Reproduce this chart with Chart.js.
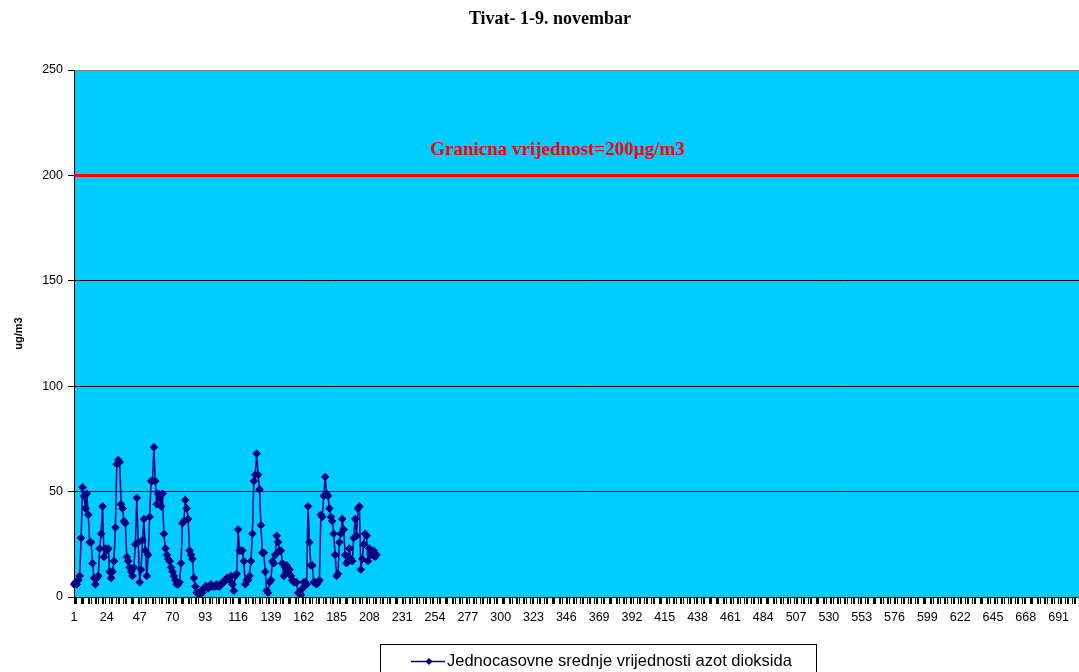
<!DOCTYPE html>
<html><head><meta charset="utf-8">
<script src="https://cdn.jsdelivr.net/npm/chart.js@4.4.0/dist/chart.umd.min.js"></script>
<style>
html,body{margin:0;padding:0;background:#fff;overflow:hidden;width:1079px;height:672px}
#wrap{position:absolute;left:0;top:0;width:1116px;height:672px}
</style>
</head><body>
<div id="wrap"><canvas id="c" width="1116" height="672"></canvas></div>
<script>
const TITLE = 'Tivat- 1-9. novembar';
const Y_TITLE = 'ug/m3';
const SERIES_LABEL = 'Jednocasovne srednje vrijednosti azot dioksida';
const LIMIT_LABEL = 'Granicna vrijednost=200µg/m3';
const LIMIT_VALUE = 200;
const HOURS_IN_MONTH = 720;
const categories = Array.from({length: HOURS_IN_MONTH}, (_, i) => i + 1);
const LABEL_STEP = 23;
const yTicks = [0, 50, 100, 150, 200, 250];
const no2 = [
  6,7,6,8,10,28,52,48,42,49,
  39,26,26,16,9,6,9,10,23,30,
  43,19,23,22,23,12,9,12,17,33,
  63,65,64,44,42,36,35,19,17,14,
  12,10,14,25,47,26,7,13,27,37,
  22,10,20,38,55,55,71,55,44,49,
  47,43,49,30,23,20,18,17,14,12,
  10,8,6,6,7,16,35,36,46,42,
  37,22,20,18,9,5,2,2,1,3,
  2,4,5,5,4,5,6,5,5,5,
  6,5,5,6,7,7,8,9,9,8,
  10,6,3,10,11,32,22,22,22,17,
  6,8,8,10,17,30,55,58,68,58,
  51,34,21,21,12,3,2,7,8,17,
  16,20,29,26,22,22,16,10,14,15,
  12,13,10,8,7,7,7,2,2,1,
  4,7,7,6,43,26,15,15,7,7,
  6,7,8,39,38,48,57,49,48,42,
  38,36,30,20,10,11,26,30,37,32,
  20,16,17,23,18,17,28,37,29,42,
  43,13,18,25,30,29,17,23,20,20,
  22,19,20
];

const NAVY = '#000080';
const PLOT_BG = '#00CCFF';

const bgPlugin = {
  id: 'plotBg',
  beforeDraw(chart) {
    const {ctx, chartArea: a} = chart;
    ctx.save();
    ctx.fillStyle = PLOT_BG;
    ctx.fillRect(a.left, a.top, a.right - a.left, a.bottom - a.top);
    ctx.restore();
  }
};

const limitPlugin = {
  id: 'limitLine',
  beforeDatasetsDraw(chart) {
    const {ctx, chartArea: a, scales: {y}} = chart;
    const py = y.getPixelForValue(LIMIT_VALUE);
    ctx.save();
    ctx.strokeStyle = '#FF0000';
    ctx.lineWidth = 3;
    ctx.beginPath();
    ctx.moveTo(a.left, py);
    ctx.lineTo(a.right, py);
    ctx.stroke();
    ctx.font = 'bold 19px "Liberation Serif", "Times New Roman", serif';
    ctx.fillStyle = '#FF0000';
    ctx.textBaseline = 'middle';
    ctx.textAlign = 'left';
    ctx.fillText(LIMIT_LABEL, a.left + 356, py - 25);
    ctx.restore();
  }
};

const legendPlugin = {
  id: 'boxLegend',
  afterDraw(chart) {
    const {ctx} = chart;
    ctx.save();
    ctx.strokeStyle = '#000';
    ctx.lineWidth = 1;
    ctx.strokeRect(380.5, 644.5, 436, 40);
    const ly = 661.5;
    ctx.strokeStyle = NAVY;
    ctx.lineWidth = 1.5;
    ctx.beginPath();
    ctx.moveTo(411, ly);
    ctx.lineTo(445, ly);
    ctx.stroke();
    ctx.fillStyle = NAVY;
    ctx.beginPath();
    ctx.moveTo(429, ly - 3.5);
    ctx.lineTo(432.5, ly);
    ctx.lineTo(429, ly + 3.5);
    ctx.lineTo(425.5, ly);
    ctx.closePath();
    ctx.fill();
    ctx.fillStyle = '#000';
    ctx.font = '16.5px "Liberation Sans", Arial, sans-serif';
    ctx.textBaseline = 'middle';
    ctx.textAlign = 'left';
    ctx.fillText(SERIES_LABEL, 447, ly);
    ctx.restore();
  }
};

new Chart(document.getElementById('c'), {
  type: 'line',
  data: {
    labels: categories,
    datasets: [{
      label: SERIES_LABEL,
      data: no2,
      borderColor: NAVY,
      borderWidth: 1.5,
      backgroundColor: NAVY,
      pointStyle: 'rectRot',
      pointRadius: 3.8,
      pointBackgroundColor: NAVY,
      pointBorderColor: NAVY,
      pointBorderWidth: 1,
      tension: 0,
      fill: false
    }]
  },
  options: {
    responsive: false,
    animation: false,
    devicePixelRatio: 1,
    layout: {padding: {left: 0, right: 16, top: 0, bottom: 0}},
    plugins: {
      legend: {display: false},
      tooltip: {enabled: false},
      title: {
        display: true,
        text: TITLE,
        color: '#000',
        font: {family: '"Liberation Serif", "Times New Roman", serif', size: 18, weight: 'bold'},
        padding: {top: 9, bottom: 39.4}
      }
    },
    scales: {
      x: {
        type: 'category',
        offset: false,
        grid: {
          display: true,
          drawOnChartArea: false,
          drawTicks: true,
          tickLength: 7,
          tickColor: (c) => (c.index % 5 < 3 ? '#000' : 'rgba(0,0,0,0)')
        },
        border: {display: true, color: '#000', width: 1},
        ticks: {
          autoSkip: false,
          minRotation: 0,
          maxRotation: 0,
          padding: 6,
          color: '#000',
          font: {family: '"Liberation Sans", Arial, sans-serif', size: 12.5},
          callback: (v, i) => (i % LABEL_STEP === 0 ? String(categories[i]) : '')
        },
        afterFit: (s) => { s.height = 75; }
      },
      y: {
        min: yTicks[0],
        max: yTicks[yTicks.length - 1],
        afterBuildTicks: (s) => { s.ticks = yTicks.map(v => ({value: v})); },
        grid: {
          color: (c) => (c.tick && c.tick.value === 250 ? '#808080' : '#000'),
          tickColor: '#000',
          tickLength: 6,
          lineWidth: 1
        },
        border: {display: true, color: '#000', width: 1},
        ticks: {
          padding: 5,
          color: '#000',
          font: {family: '"Liberation Sans", Arial, sans-serif', size: 12.5}
        },
        title: {
          display: true,
          text: Y_TITLE,
          color: '#000',
          font: {family: '"Liberation Sans", Arial, sans-serif', size: 11, weight: 'bold'},
          padding: {top: 12, bottom: 0}
        },
        afterFit: (s) => { s.width = 74; }
      }
    }
  },
  plugins: [bgPlugin, limitPlugin, legendPlugin]
});
</script>
</body></html>
